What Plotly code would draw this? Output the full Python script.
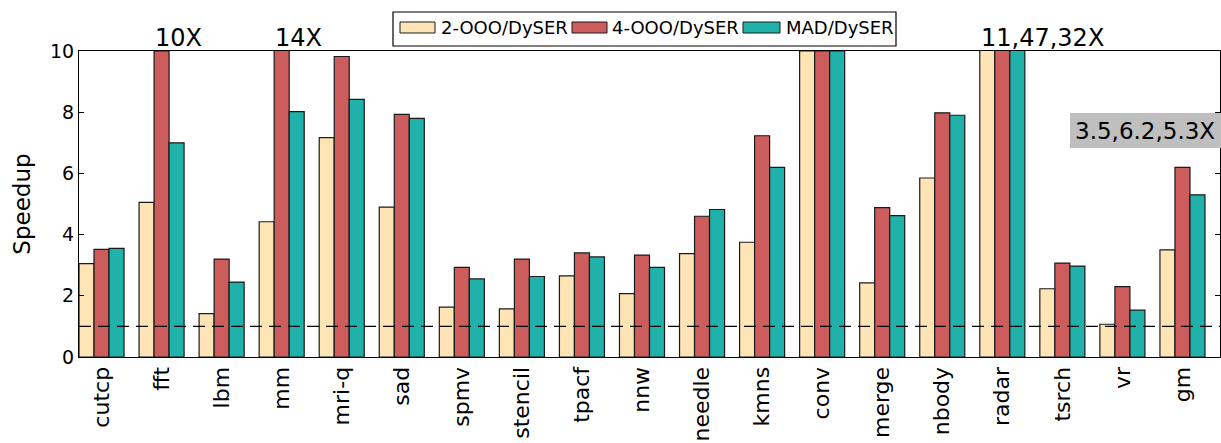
import plotly.graph_objects as go

# Benchmarks and speedups over DySER (values above 10 run off the top of the axis)
benchmarks = ["cutcp", "fft", "lbm", "mm", "mri-q", "sad", "spmv", "stencil", "tpacf",
              "nnw", "needle", "kmns", "conv", "merge", "nbody", "radar", "tsrch", "vr", "gm"]
ooo2 = [3.05, 5.05, 1.42, 4.42, 7.17, 4.90, 1.63, 1.57, 2.65, 2.07, 3.38, 3.75, 10.0,
        2.42, 5.85, 11.0, 2.23, 1.07, 3.5]
ooo4 = [3.52, 10.0, 3.20, 14.0, 9.82, 7.93, 2.93, 3.20, 3.40, 3.33, 4.60, 7.23, 10.0,
        4.88, 7.98, 47.0, 3.07, 2.30, 6.2]
mad = [3.55, 7.00, 2.45, 8.02, 8.42, 7.80, 2.55, 2.63, 3.27, 2.93, 4.82, 6.20, 10.0,
       4.62, 7.90, 32.0, 2.97, 1.53, 5.3]

series = [("2-OOO/DySER", ooo2, "#FFE4B5"),
          ("4-OOO/DySER", ooo4, "#CD5C5C"),
          ("MAD/DySER", mad, "#20B2AA")]

FONT = "DejaVu Sans"
W, H = 1221, 443
ML, MR, MT, MB = 79, 1, 51, 86
PW, PH = W - ML - MR, H - MT - MB


def px_x(px):
    return (px - ML) / PW


def px_y(py):
    return (H - MB - py) / PH


fig = go.Figure()
for name, vals, color in series:
    fig.add_trace(go.Bar(
        x=benchmarks, y=vals, name=name, showlegend=False,
        marker=dict(color=color, line=dict(color="#1a1a1a", width=1.2)),
    ))

# baseline at speedup 1
fig.add_shape(type="line", xref="paper", yref="y", x0=0, x1=1, y0=1, y1=1,
              line=dict(color="black", width=1.2, dash="12px,7px"))

# off-scale value labels, left-aligned to the clipped bars
ann_font = dict(family=FONT, size=24, color="black")
bar_w = 0.25
for idx, k, txt in [(1, 1, "10X"), (3, 1, "14X"), (15, 0, "11,47,32X")]:
    fig.add_annotation(x=idx - 0.375 + bar_w * k, xref="x", y=1, yref="paper",
                       text=txt, showarrow=False, xanchor="left", yanchor="bottom",
                       font=ann_font, borderpad=0, yshift=-2)

# geometric-mean callout on a grey panel
fig.add_shape(type="rect", xref="paper", yref="paper",
              x0=px_x(1070), x1=px_x(1230), y0=px_y(148), y1=px_y(113),
              line=dict(width=0), fillcolor="#BFBFBF", layer="above")
fig.add_annotation(x=px_x(1074), xref="paper", y=px_y(130.5), yref="paper",
                   text="3.5,6.2,5.3X", showarrow=False, xanchor="left", yanchor="middle",
                   font=dict(family=FONT, size=23, color="black"), borderpad=0)

# legend box drawn as shapes + text
fig.add_shape(type="rect", xref="paper", yref="paper",
              x0=px_x(393), x1=px_x(896), y0=px_y(46), y1=px_y(12),
              line=dict(color="black", width=1.2), fillcolor="white")
swatches = [(400, 435, 440), (572, 607, 611), (743, 780, 785)]
for (sx0, sx1, tx), (name, _, color) in zip(swatches, series):
    fig.add_shape(type="rect", xref="paper", yref="paper",
                  x0=px_x(sx0), x1=px_x(sx1), y0=px_y(33), y1=px_y(22),
                  line=dict(color="#1a1a1a", width=1), fillcolor=color)
    fig.add_annotation(x=px_x(tx), xref="paper", y=px_y(27.5), yref="paper",
                       text=name, showarrow=False, xanchor="left", yanchor="middle",
                       font=dict(family=FONT, size=18, color="black"), borderpad=0)

fig.update_layout(
    width=W, height=H,
    margin=dict(l=ML, r=MR, t=MT, b=MB),
    paper_bgcolor="white", plot_bgcolor="white",
    barmode="group", bargap=0.25, bargroupgap=0,
    font=dict(family=FONT, color="black"),
)
fig.update_xaxes(
    range=[-0.375, 18.625], showline=True, linecolor="black", linewidth=1.2, mirror=True,
    ticks="", tickangle=-90, tickfont=dict(family=FONT, size=22, color="black"),
    showgrid=False, zeroline=False, automargin=False,
)
fig.update_yaxes(
    range=[0, 10], tickvals=[0, 2, 4, 6, 8, 10], showline=True, linecolor="black",
    linewidth=1.2, mirror="ticks", ticks="inside", ticklen=5, tickcolor="black",
    tickfont=dict(family=FONT, size=19, color="black"), showgrid=False, zeroline=False,
    automargin=False,
    title=dict(text="Speedup", font=dict(family=FONT, size=23, color="black"), standoff=12),
)

fig.write_html("out.html")
